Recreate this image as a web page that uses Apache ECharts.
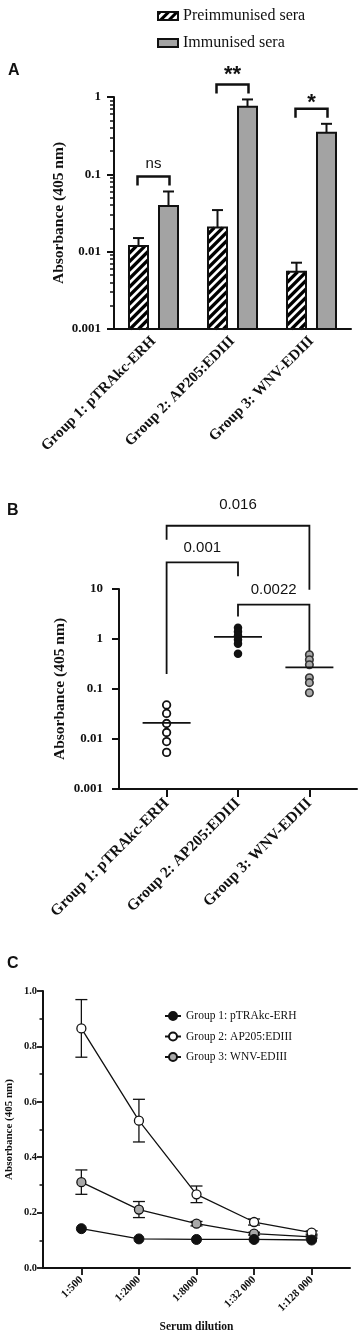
<!DOCTYPE html>
<html>
<head>
<meta charset="utf-8">
<script src="https://cdn.jsdelivr.net/npm/echarts@6/dist/echarts.min.js"></script>
<style>
  html, body { margin: 0; padding: 0; background: #fff; }
  #chart { width: 361px; height: 1339px; }
</style>
</head>
<body>
<div id="chart"></div>
<script>
// panel A - ELISA absorbance, mean + upper SD
const groups = ['Group 1: pTRAkc-ERH', 'Group 2: AP205:EDIII', 'Group 3: WNV-EDIII'];
const preMean = [0.0118, 0.0205, 0.0055];
const preErrTop = [0.015, 0.0345, 0.0072];
const immMean = [0.039, 0.75, 0.345];
const immErrTop = [0.06, 0.93, 0.45];
const signifA = ['ns', '**', '*'];
const minorTicksA = [
  0.002, 0.003, 0.004, 0.005, 0.006, 0.007, 0.008, 0.009,
  0.02, 0.03, 0.04, 0.05, 0.06, 0.07, 0.08, 0.09,
  0.2, 0.3, 0.4, 0.5, 0.6, 0.7, 0.8, 0.9
];

// panel B - individual sera
const pointsG1 = [0.048, 0.0324, 0.0204, 0.0135, 0.0089, 0.0054];
const pointsG2 = [1.68, 1.40, 1.16, 0.97, 0.805, 0.508];
const pointsG3 = [0.485, 0.385, 0.306, 0.168, 0.134, 0.084];
const meansB = [0.021, 1.1, 0.27];
const pairsB = [[1, 2], [2, 3], [1, 3]];
const pValuesB = ['0.001', '0.0022', '0.016'];

// panel C - titration
const dilutions = ['1:500', '1:2000', '1:8000', '1:32 000', '1:128 000'];
const c1 = [0.142, 0.105, 0.103, 0.103, 0.101];
const c2 = [0.865, 0.532, 0.266, 0.166, 0.128];
const c2Err = [0.104, 0.077, 0.03, 0.011, 0.006];
const c3 = [0.31, 0.211, 0.16, 0.124, 0.112];
const c3Err = [0.044, 0.029, 0.008, 0.005, 0.004];

const SERIF = 'Liberation Serif';
const SANS = 'Liberation Sans';
const INK = '#111';
const GREY = '#a3a3a3';

const chart = echarts.init(document.getElementById('chart'));

const logLabel = v => String(+Number(v).toPrecision(3));

// bars of panel A are drawn by hand: ECharts starts log bars at 1
function barA(offset, hatched) {
  return function (params, api) {
    const top = api.coord([api.value(0), api.value(1)]);
    const yb = params.coordSys.y + params.coordSys.height;
    const x0 = top[0] + offset - 9.5, x1 = x0 + 19, y0 = top[1];
    const kids = [{
      type: 'rect', shape: { x: x0, y: y0, width: 19, height: yb - y0 },
      style: { fill: hatched ? '#fff' : GREY }
    }];
    if (hatched) {
      const step = 8.5;
      for (let c = Math.ceil((x0 + y0) / step) * step; c < x1 + yb + 3; c += step) {
        const xa = Math.max(x0, c - yb), xb = Math.min(x1, c - y0);
        if (xb <= xa) continue;
        kids.push({
          type: 'line', shape: { x1: xa, y1: c - xa, x2: xb, y2: c - xb },
          style: { stroke: '#000', lineWidth: 3.2 }
        });
      }
    }
    kids.push({
      type: 'rect', shape: { x: x0, y: y0, width: 19, height: yb - y0 },
      style: { fill: null, stroke: INK, lineWidth: 2 }
    });
    return { type: 'group', children: kids };
  };
}

// error bar (upwards only) next to a bar, offset = shift from category centre
function upErr(offset) {
  return function (params, api) {
    const p0 = api.coord([api.value(0), api.value(1)]);
    const p1 = api.coord([api.value(0), api.value(2)]);
    const cx = p0[0] + offset;
    const st = { stroke: INK, lineWidth: 2 };
    return {
      type: 'group',
      children: [
        { type: 'line', shape: { x1: cx, y1: p0[1], x2: cx, y2: p1[1] }, style: st },
        { type: 'line', shape: { x1: cx - 5.5, y1: p1[1], x2: cx + 5.5, y2: p1[1] }, style: st }
      ]
    };
  };
}

// bracket over the two bars of one group
function bracketA(params, api) {
  const p = api.coord([api.value(0), api.value(1)]);
  const legY = p[1] - 6;
  const barY = legY - 9;
  const label = signifA[params.dataIndex];
  const star = label !== 'ns';
  return {
    type: 'group',
    children: [
      {
        type: 'polyline',
        shape: { points: [[p[0] - 16, legY], [p[0] - 16, barY], [p[0] + 16, barY], [p[0] + 16, legY]] },
        style: { stroke: INK, lineWidth: 2.5, fill: null }
      },
      {
        type: 'text',
        x: p[0], y: barY - (star ? (label === '**' ? 9 : 6) : 13),
        style: {
          text: label, fill: INK, align: 'center', verticalAlign: 'middle',
          font: (star ? 'bold 22px ' : '15px ') + SANS
        }
      }
    ]
  };
}

// comparison brackets of panel B: [bar level, left leg end, right leg end] in axis units
const bracketLevelsB = [[34, 0.2, 17.9], [4.85, 2.83, 0.565], [184, 97, 9.7]];
const textGapB = [15, 14.5, 21];
function bracketB(params, api) {
  const i = params.dataIndex;
  const lv = bracketLevelsB[i];
  const a = api.coord([api.value(0), lv[0]]);
  const b = api.coord([api.value(1), lv[0]]);
  const la = api.coord([api.value(0), lv[1]]);
  const lb = api.coord([api.value(1), lv[2]]);
  return {
    type: 'group',
    children: [
      {
        type: 'polyline',
        shape: { points: [[la[0], la[1]], [a[0], a[1]], [b[0], b[1]], [lb[0], lb[1]]] },
        style: { stroke: INK, lineWidth: 1.8, fill: null }
      },
      {
        type: 'text',
        x: (a[0] + b[0]) / 2, y: a[1] - textGapB[i],
        style: { text: pValuesB[i], fill: INK, align: 'center', verticalAlign: 'middle', font: '15px ' + SANS }
      }
    ]
  };
}

function meanLine(params, api) {
  const p = api.coord([api.value(0), api.value(1)]);
  return {
    type: 'line',
    shape: { x1: p[0] - 24, y1: p[1], x2: p[0] + 24, y2: p[1] },
    style: { stroke: INK, lineWidth: 1.8 }
  };
}

function symErr(params, api) {
  const x = api.value(0), m = api.value(1), e = api.value(2);
  const t = api.coord([x, m + e]);
  const b = api.coord([x, m - e]);
  const st = { stroke: INK, lineWidth: 1.3 };
  return {
    type: 'group',
    children: [
      { type: 'line', shape: { x1: t[0], y1: t[1], x2: b[0], y2: b[1] }, style: st },
      { type: 'line', shape: { x1: t[0] - 6, y1: t[1], x2: t[0] + 6, y2: t[1] }, style: st },
      { type: 'line', shape: { x1: b[0] - 6, y1: b[1], x2: b[0] + 6, y2: b[1] }, style: st }
    ]
  };
}

const axisLineStyle = { lineStyle: { color: INK, width: 2 } };
const pts = arr => arr.map((v, i) => [i + 1, v]);
const scat = (x, arr) => arr.map(v => [x, v]);

const option = {
  backgroundColor: '#fff',
  animation: false,
  title: [
    { text: 'A', left: 8, top: 63, padding: 0, textStyle: { fontFamily: SANS, fontWeight: 'bold', fontSize: 16, color: INK } },
    { text: 'B', left: 7, top: 503, padding: 0, textStyle: { fontFamily: SANS, fontWeight: 'bold', fontSize: 16, color: INK } },
    { text: 'C', left: 7, top: 956, padding: 0, textStyle: { fontFamily: SANS, fontWeight: 'bold', fontSize: 16, color: INK } }
  ],
  legend: [
    {
      data: ['Preimmunised sera', 'Immunised sera'],
      orient: 'vertical', left: 157, top: 7, padding: 0, itemWidth: 20, itemHeight: 8, itemGap: 9,
      icon: 'rect',
      textStyle: { fontFamily: SERIF, fontSize: 16, color: INK, lineHeight: 18 }
    },
    {
      data: ['Group 1: pTRAkc-ERH', 'Group 2: AP205:EDIII', 'Group 3: WNV-EDIII'],
      orient: 'vertical', left: 164, top: 1009, padding: 0, itemWidth: 16, itemHeight: 10, itemGap: 6.5,
      textStyle: { fontFamily: SERIF, fontSize: 11.5, color: INK, lineHeight: 14 }
    }
  ],
  grid: [
    { left: 114, top: 97, width: 237, height: 232, outerBoundsMode: 'none' },
    { left: 119, top: 589, width: 238, height: 200, outerBoundsMode: 'none' },
    { left: 43, top: 991, width: 307, height: 277, outerBoundsMode: 'none' }
  ],
  xAxis: [
    {
      gridIndex: 0, type: 'category', data: groups,
      axisLine: axisLineStyle,
      axisTick: { alignWithLabel: true, length: 8, lineStyle: { color: INK, width: 2 } },
      axisLabel: { rotate: 45, margin: 10, interval: 0, color: INK, fontFamily: SERIF, fontWeight: 'bold', fontSize: 15 }
    },
    {
      gridIndex: 1, type: 'value', min: 1 / 3, max: 11 / 3,
      splitLine: { show: false },
      axisLine: axisLineStyle,
      axisTick: { customValues: [1, 2, 3], length: 8, lineStyle: { color: INK, width: 2 } },
      axisLabel: {
        customValues: [1, 2, 3], rotate: 45, margin: 12, color: INK,
        fontFamily: SERIF, fontWeight: 'bold', fontSize: 15.5,
        formatter: v => groups[Math.round(v) - 1]
      }
    },
    {
      gridIndex: 2, type: 'value', min: 1 / 3, max: 17 / 3,
      splitLine: { show: false },
      axisLine: axisLineStyle,
      axisTick: { customValues: [1, 2, 3, 4, 5], length: 7, lineStyle: { color: INK, width: 1.8 } },
      axisLabel: {
        customValues: [1, 2, 3, 4, 5], rotate: 45, margin: 10, color: INK,
        fontFamily: SERIF, fontWeight: 'bold', fontSize: 11,
        formatter: v => dilutions[Math.round(v) - 1]
      },
      name: 'Serum dilution', nameLocation: 'middle', nameGap: 53, nameMoveOverlap: false,
      nameTextStyle: { fontFamily: SERIF, fontWeight: 'bold', fontSize: 11.5, color: INK }
    }
  ],
  yAxis: [
    {
      gridIndex: 0, type: 'log', logBase: 10, min: 0.001, max: 1,
      splitLine: { show: false },
      axisLine: { show: true, ...axisLineStyle },
      axisTick: { show: true, length: 7, lineStyle: { color: INK, width: 2 } },
      axisLabel: { margin: 13, color: INK, fontFamily: SERIF, fontWeight: 'bold', fontSize: 13, formatter: logLabel },
      name: 'Absorbance (405 nm)', nameLocation: 'middle', nameRotate: 90, nameGap: 47, nameMoveOverlap: false,
      nameTextStyle: { fontFamily: SERIF, fontWeight: 'bold', fontSize: 15.5, color: INK }
    },
    {
      gridIndex: 0, type: 'log', logBase: 10, min: 0.001, max: 1, position: 'left', offset: 0,
      splitLine: { show: false },
      axisLine: { show: false },
      axisLabel: { show: false },
      axisTick: { show: true, customValues: minorTicksA, length: 4, lineStyle: { color: INK, width: 1.5 } }
    },
    {
      gridIndex: 1, type: 'log', logBase: 10, min: 0.001, max: 10,
      splitLine: { show: false },
      axisLine: { show: true, ...axisLineStyle },
      axisTick: { show: true, length: 7, lineStyle: { color: INK, width: 2 } },
      axisLabel: { margin: 16, color: INK, fontFamily: SERIF, fontWeight: 'bold', fontSize: 13, formatter: logLabel },
      name: 'Absorbance (405 nm)', nameLocation: 'middle', nameRotate: 90, nameGap: 51, nameMoveOverlap: false,
      nameTextStyle: { fontFamily: SERIF, fontWeight: 'bold', fontSize: 15.5, color: INK }
    },
    {
      gridIndex: 2, type: 'value', min: 0, max: 1, interval: 0.2,
      splitLine: { show: false },
      axisLine: { show: true, ...axisLineStyle },
      axisTick: { show: true, length: 6, lineStyle: { color: INK, width: 1.8 } },
      minorTick: { show: true, splitNumber: 2, length: 3.5, lineStyle: { color: INK, width: 1.5 } },
      axisLabel: { margin: 6, color: INK, fontFamily: SERIF, fontWeight: 'bold', fontSize: 10.5, formatter: v => v.toFixed(1) },
      name: 'Absorbance (405 nm)', nameLocation: 'middle', nameRotate: 90, nameGap: 28, nameMoveOverlap: false,
      nameTextStyle: { fontFamily: SERIF, fontWeight: 'bold', fontSize: 11, color: INK }
    }
  ],
  series: [
    // ---- A (empty bar series only feed the legend)
    {
      name: 'Preimmunised sera', type: 'bar', xAxisIndex: 0, yAxisIndex: 0, data: [],
      itemStyle: {
        color: '#fff', borderColor: INK, borderWidth: 2,
        decal: { symbol: 'rect', dashArrayX: [1, 0], dashArrayY: [3, 3], rotation: -Math.PI / 4, color: '#000' }
      }
    },
    {
      name: 'Immunised sera', type: 'bar', xAxisIndex: 0, yAxisIndex: 0, data: [],
      itemStyle: { color: GREY, borderColor: INK, borderWidth: 2 }
    },
    {
      type: 'custom', xAxisIndex: 0, yAxisIndex: 0, clip: false,
      data: preMean.map((v, i) => [i, v]), renderItem: barA(-15, true)
    },
    {
      type: 'custom', xAxisIndex: 0, yAxisIndex: 0, clip: false,
      data: immMean.map((v, i) => [i, v]), renderItem: barA(15, false)
    },
    {
      type: 'custom', xAxisIndex: 0, yAxisIndex: 0, clip: false,
      data: preMean.map((v, i) => [i, v, preErrTop[i]]), renderItem: upErr(-15)
    },
    {
      type: 'custom', xAxisIndex: 0, yAxisIndex: 0, clip: false,
      data: immMean.map((v, i) => [i, v, immErrTop[i]]), renderItem: upErr(15)
    },
    {
      type: 'custom', xAxisIndex: 0, yAxisIndex: 0, clip: false,
      data: groups.map((g, i) => [i, Math.max(preErrTop[i], immErrTop[i])]), renderItem: bracketA
    },
    // ---- B
    {
      name: 'B1', type: 'scatter', xAxisIndex: 1, yAxisIndex: 2, data: scat(1, pointsG1),
      symbolSize: 7.5, itemStyle: { color: '#fff', borderColor: INK, borderWidth: 1.8, opacity: 1 }
    },
    {
      name: 'B2', type: 'scatter', xAxisIndex: 1, yAxisIndex: 2, data: scat(2, pointsG2),
      symbolSize: 8.5, itemStyle: { color: INK, opacity: 1 }
    },
    {
      name: 'B3', type: 'scatter', xAxisIndex: 1, yAxisIndex: 2, data: scat(3, pointsG3),
      symbolSize: 7.5, itemStyle: { color: '#a9a9a9', borderColor: '#333', borderWidth: 1.6, opacity: 1 }
    },
    {
      type: 'custom', xAxisIndex: 1, yAxisIndex: 2, clip: false, z: 3,
      data: pts(meansB), renderItem: meanLine
    },
    {
      type: 'custom', xAxisIndex: 1, yAxisIndex: 2, clip: false,
      data: pairsB, renderItem: bracketB
    },
    // ---- C
    {
      type: 'custom', xAxisIndex: 2, yAxisIndex: 3, clip: false, z: 1,
      data: c2.map((v, i) => [i + 1, v, c2Err[i]]).concat(c3.map((v, i) => [i + 1, v, c3Err[i]])),
      renderItem: symErr
    },
    {
      name: 'Group 3: WNV-EDIII', type: 'line', xAxisIndex: 2, yAxisIndex: 3, data: pts(c3), z: 3,
      symbol: 'circle', symbolSize: 9, showAllSymbol: true,
      lineStyle: { color: INK, width: 1.3 },
      itemStyle: { color: '#a9a9a9', borderColor: INK, borderWidth: 1.3 }
    },
    {
      name: 'Group 2: AP205:EDIII', type: 'line', xAxisIndex: 2, yAxisIndex: 3, data: pts(c2), z: 4,
      symbol: 'circle', symbolSize: 9, showAllSymbol: true,
      lineStyle: { color: INK, width: 1.3 },
      itemStyle: { color: '#fff', borderColor: INK, borderWidth: 1.3 }
    },
    {
      name: 'Group 1: pTRAkc-ERH', type: 'line', xAxisIndex: 2, yAxisIndex: 3, data: pts(c1), z: 5,
      symbol: 'circle', symbolSize: 10, showAllSymbol: true,
      lineStyle: { color: INK, width: 1.3 },
      itemStyle: { color: INK, borderColor: INK, borderWidth: 1 }
    }
  ]
};

chart.setOption(option);
</script>
</body>
</html>
